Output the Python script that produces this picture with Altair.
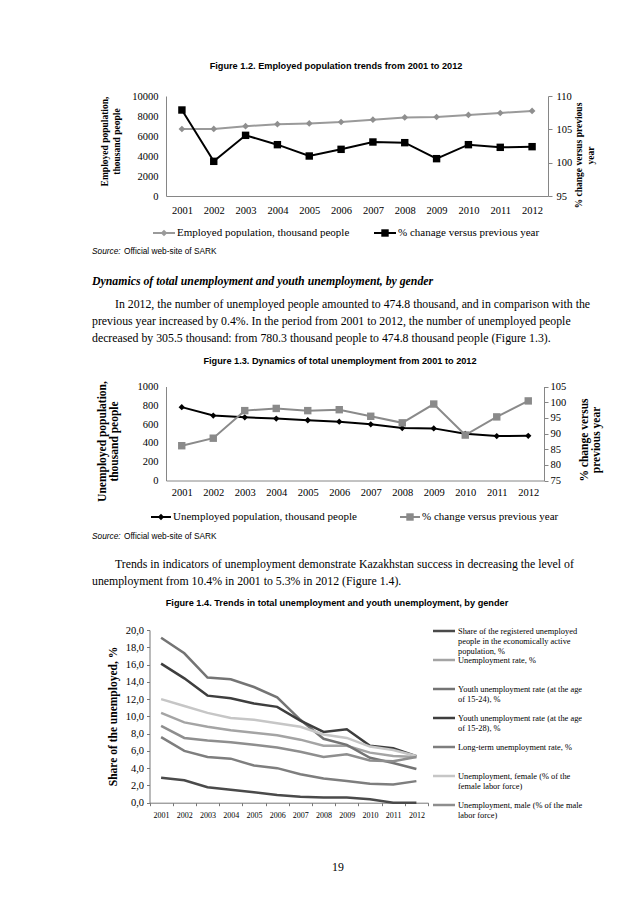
import altair as alt
import pandas as pd

SERIF = "Liberation Serif"
SANS = "Liberation Sans"
W, H = 622, 887
AXIS_GRAY = "#868686"

# ---------------- data ----------------
years = [str(y) for y in range(2001, 2013)]

# Figure 1.2
employed = [6700, 6710, 6985, 7180, 7260, 7400, 7630, 7860, 7900, 8110, 8300, 8510]
employed_change = [107.9, 100.2, 104.1, 102.7, 101.0, 102.0, 103.1, 103.0, 100.6, 102.7, 102.3, 102.4]
legend1 = ["Employed population, thousand people", "% chanage versus previous year"]

# Figure 1.3
unemployed = [780.3, 690.7, 672.1, 658.7, 640.7, 625.4, 597.2, 557.8, 554.5, 496.5, 473.0, 474.8]
unemployed_change = [86.1, 88.5, 97.3, 98.0, 97.3, 97.6, 95.5, 93.4, 99.4, 89.5, 95.3, 100.4]
legend2 = ["Unemployed population, thousand people", "% change versus previous year"]

# Figure 1.4
series_names = [
    "Share of the registered unemployed people in the economically active population, %",
    "Unemployment rate, %",
    "Youth unemployment rate (at the age of 15-24), %",
    "Youth unemployment rate (at the age of 15-28), %",
    "Long-term unemployment rate, %",
    "Unemployment, female (% of the female labor force)",
    "Unemployment, male (% of the male labor force)",
]
legend3_labels = [
    "Share of the registered unemployed\npeople in the economically active\npopulation, %",
    "Unemployment rate, %",
    "Youth unemployment rate (at the age\nof 15-24), %",
    "Youth unemployment rate (at the age\nof 15-28), %",
    "Long-term unemployment rate, %",
    "Unemployment, female (% of the\nfemale labor force)",
    "Unemployment, male (% of the male\nlabor force)",
]
series_colors = ["#4a4a4a", "#a4a4a4", "#747474", "#3e3e3e", "#7e7e7e", "#c6c6c6", "#8e8e8e"]
share_registered = [2.9, 2.6, 1.8, 1.5, 1.2, 0.9, 0.7, 0.6, 0.6, 0.4, 0.0, 0.0]
unemployment_rate = [10.4, 9.3, 8.8, 8.4, 8.1, 7.8, 7.3, 6.6, 6.6, 5.8, 5.4, 5.3]
youth_15_24 = [19.1, 17.3, 14.5, 14.3, 13.4, 12.2, 9.6, 7.4, 6.7, 5.2, 4.6, 3.9]
youth_15_28 = [16.1, 14.4, 12.4, 12.1, 11.5, 11.1, 9.5, 8.2, 8.5, 6.6, 6.3, 5.4]
long_term = [7.6, 6.0, 5.3, 5.1, 4.3, 4.0, 3.3, 2.8, 2.5, 2.2, 2.1, 2.5]
female = [12.0, 11.2, 10.4, 9.8, 9.6, 9.2, 8.8, 7.9, 7.5, 6.5, 6.1, 5.4]
male = [8.9, 7.5, 7.2, 7.0, 6.7, 6.4, 5.9, 5.3, 5.6, 4.9, 4.8, 5.3]
series_values = [share_registered, unemployment_rate, youth_15_24, youth_15_28,
                 long_term, female, male]

# page texts
fig12_title = "Figure 1.2. Employed population trends from 2001 to 2012"
fig13_title = "Figure 1.3. Dynamics of total unemployment from 2001 to 2012"
fig14_title = "Figure 1.4. Trends in total unemployment and youth unemployment, by gender"
source_label = "Source:"
source_text = "Official web-site of SARK"
heading = "Dynamics of total unemployment and youth unemployment, by gender"
para1 = [
    "In 2012, the number of unemployed people amounted to 474.8 thousand, and in comparison with the",
    "previous year increased by 0.4%. In the period from 2001 to 2012, the number of unemployed people",
    "decreased by 305.5 thousand: from 780.3 thousand people to 474.8 thousand people (Figure 1.3).",
]
para2 = [
    "Trends in indicators of unemployment demonstrate Kazakhstan success in decreasing the level of",
    "unemployment from 10.4% in 2001 to 5.3% in 2012 (Figure 1.4).",
]
page_number = "19"

BODY = 11.8


# ---------------- helpers ----------------
def axis(orient, offset, **kw):
    base = dict(orient=orient, offset=offset, grid=False, labelFont=SERIF,
                labelColor="#000", labelFontSize=10.5, domainColor=AXIS_GRAY,
                tickColor=AXIS_GRAY, titleFont=SERIF, titleColor="#000",
                titleFontWeight="bold")
    base.update(kw)
    return alt.Axis(**base)


def text(s, x, y, size, font=SERIF, weight="normal", style="normal", align="left"):
    return alt.Chart(pd.DataFrame({"t": [s]})).mark_text(
        align=align, baseline="middle", font=font, fontSize=size,
        fontWeight=weight, fontStyle=style, color="#000"
    ).encode(x=alt.value(x), y=alt.value(y), text="t:N")


def legend_entry(label, x0, y, color, shape, size, width=22):
    d = pd.DataFrame({"label": [label]})
    rule = alt.Chart(d).mark_rule(color=color, strokeWidth=2).encode(
        x=alt.value(x0), x2=alt.value(x0 + width), y=alt.value(y))
    pt = alt.Chart(d).mark_point(shape=shape, size=size, filled=True, opacity=1,
                                 color=color).encode(
        x=alt.value(x0 + width / 2), y=alt.value(y))
    tx = alt.Chart(d).mark_text(align="left", baseline="middle", font=SERIF,
                                fontSize=11, color="#000").encode(
        x=alt.value(x0 + width + 2), y=alt.value(y), text="label:N")
    return alt.layer(rule, pt, tx)


# ---------------- Figure 1.2 ----------------
df1 = pd.DataFrame({"year": years, "employed": employed, "change": employed_change})
x1 = alt.X("year:O", scale=alt.Scale(type="point", range=[158, 540], padding=0.5),
           axis=axis("bottom", 188 - H, title=None, labelAngle=0, ticks=False,
                     tickSize=0, labelPadding=9))
emp_gray = "#9a9a9a"
c1a = alt.Chart(df1).mark_line(
    color=emp_gray, strokeWidth=2,
    point=alt.OverlayMarkDef(shape="diamond", size=45, filled=True, color="#8f8f8f")
).encode(
    x=x1,
    y=alt.Y("employed:Q",
            scale=alt.Scale(domain=[0, 10000], range=[188, 88], nice=False),
            axis=axis("left", -158, values=[0, 2000, 4000, 6000, 8000, 10000],
                      format="d", ticks=False, tickSize=0, labelPadding=8,
                      title=["Employed population,", "thousand people"],
                      titleFontSize=9.5, titleAngle=270, titleX=-62, titleY=133,
                      titleAlign="center", titleBaseline="middle",
                      titleLineHeight=12)),
)
c1b = alt.Chart(df1).mark_line(
    color="#000", strokeWidth=2,
    point=alt.OverlayMarkDef(shape="square", size=55, filled=True, color="#000")
).encode(
    x=x1,
    y=alt.Y("change:Q",
            scale=alt.Scale(domain=[95, 110], range=[188, 88], nice=False, zero=False),
            axis=axis("right", 540 - W, values=[95, 100, 105, 110], format="d",
                      tickSize=4, labelPadding=4,
                      title=["% change versus previous", "year"],
                      titleFontSize=9.5, titleAngle=270, titleX=30, titleY=147,
                      titleAlign="center", titleBaseline="middle",
                      titleLineHeight=12)),
)
c1 = alt.layer(c1a, c1b).resolve_scale(y="independent")

leg1 = alt.layer(
    legend_entry(legend1[0], 145, 225, emp_gray, "diamond", 45),
    legend_entry(legend1[1], 366, 225, "#000", "square", 55),
)

# ---------------- Figure 1.3 ----------------
df2 = pd.DataFrame({"year": years, "unemployed": unemployed, "change": unemployed_change})
x2 = alt.X("year:O", scale=alt.Scale(type="point", range=[158, 536], padding=0.5),
           axis=axis("bottom", 472.5 - H, title=None, labelAngle=0, ticks=False,
                     tickSize=0, labelPadding=6.5))
chg_gray = "#8a8a8a"
c2a = alt.Chart(df2).mark_line(
    color="#000", strokeWidth=2,
    point=alt.OverlayMarkDef(shape="diamond", size=40, filled=True, color="#000")
).encode(
    x=x2,
    y=alt.Y("unemployed:Q",
            scale=alt.Scale(domain=[0, 1000], range=[472.5, 378.5], nice=False),
            axis=axis("left", -158, values=[0, 200, 400, 600, 800, 1000],
                      format="d", ticks=False, tickSize=0, labelPadding=8,
                      title=["Unemployed population,", "thousand people"],
                      titleFontSize=11.5, titleAngle=270, titleX=-64, titleY=433,
                      titleAlign="center", titleBaseline="middle",
                      titleLineHeight=12.5)),
)
c2b = alt.Chart(df2).mark_line(
    color=chg_gray, strokeWidth=2,
    point=alt.OverlayMarkDef(shape="square", size=55, filled=True, color=chg_gray)
).encode(
    x=x2,
    y=alt.Y("change:Q",
            scale=alt.Scale(domain=[75, 105], range=[472.5, 378.5], nice=False, zero=False),
            axis=axis("right", 536 - W, values=[75, 80, 85, 90, 95, 100, 105],
                      format="d", tickSize=4, labelPadding=2,
                      title=["% change versus", "previous year"],
                      titleFontSize=11.5, titleAngle=270, titleX=40, titleY=431.5,
                      titleAlign="center", titleBaseline="middle",
                      titleLineHeight=12.5)),
)
c2 = alt.layer(c2a, c2b).resolve_scale(y="independent")

leg2 = alt.layer(
    legend_entry(legend2[0], 143, 509, "#000", "diamond", 40, width=20),
    legend_entry(legend2[1], 392, 509, chg_gray, "square", 55, width=20),
)

# ---------------- Figure 1.4 ----------------
rows = []
for name, vals in zip(series_names, series_values):
    for yr, v in zip(years, vals):
        rows.append({"year": yr, "series": name, "value": v})
df3 = pd.DataFrame(rows)
color3 = alt.Scale(domain=series_names, range=series_colors)
c3 = alt.Chart(df3).mark_line(strokeWidth=2.5).encode(
    x=alt.X("year:O",
            scale=alt.Scale(type="band", range=[141.5, 420], paddingInner=0, paddingOuter=0),
            axis=axis("bottom", 794.7 - H, title=None, labelAngle=0, tickBand="extent",
                      tickSize=3, labelPadding=6, labelFontSize=8,
                      domainColor="#777", tickColor="#777")),
    y=alt.Y("value:Q",
            scale=alt.Scale(domain=[0, 20], range=[794.7, 622], nice=False),
            axis=axis("left", -141.5, values=list(range(0, 21, 2)), tickSize=3,
                      labelPadding=3, domainColor="#777", tickColor="#777",
                      labelExpr="replace(format(datum.value, '.1f'), '.', ',')",
                      title="Share of the unemployed, %", titleFontSize=11.5,
                      titleAngle=270, titleX=-36.5, titleY=708,
                      titleAlign="center", titleBaseline="middle")),
    color=alt.Color("series:N", scale=color3, legend=None),
)

leg3_df = pd.DataFrame({"series": series_names, "label": legend3_labels,
                        "k": list(range(len(series_names)))})
ly = alt.Y("k:Q", scale=alt.Scale(domain=[0, 6], range=[623, 797]), axis=None)
leg3 = alt.layer(
    alt.Chart(leg3_df).mark_rule(strokeWidth=2.5).encode(
        x=alt.value(425), x2=alt.value(447), y=ly,
        color=alt.Color("series:N", scale=color3, legend=None)),
    alt.Chart(leg3_df).mark_text(align="left", baseline="alphabetic", dy=3,
                                 lineBreak="\n", lineHeight=10, font=SERIF,
                                 fontSize=8.4, color="#000").encode(
        x=alt.value(450), y=ly, text="label:N"),
)

# ---------------- page texts ----------------
texts = [
    text(fig12_title, 328, 58, 9.2, font=SANS, weight="bold", align="center"),
    text(source_label, 84, 244, 8.3, font=SANS, style="italic"),
    text(source_text, 116, 244, 8.3, font=SANS),
    text(heading, 84, 273, 11.8, weight="bold", style="italic"),
    text(para1[0], 107, 296, BODY),
    text(para1[1], 84, 313, BODY),
    text(para1[2], 84, 330, BODY),
    text(fig13_title, 332, 353, 9.2, font=SANS, weight="bold", align="center"),
    text(source_label, 84, 529, 8.3, font=SANS, style="italic"),
    text(source_text, 116, 529, 8.3, font=SANS),
    text(para2[0], 107, 556, BODY),
    text(para2[1], 84, 573, BODY),
    text(fig14_title, 329, 595, 9.2, font=SANS, weight="bold", align="center"),
    text(page_number, 330, 859, BODY, align="center"),
]

chart = alt.layer(c1, leg1, c2, leg2, c3, leg3, *texts).resolve_scale(
    x="independent", y="independent", color="independent"
).properties(
    width=W, height=H, autosize=alt.AutoSizeParams(type="none"), padding=0,
    background="white"
).configure_view(stroke=None)

chart.save("out.html", embed_options={"renderer": "svg", "actions": False})
